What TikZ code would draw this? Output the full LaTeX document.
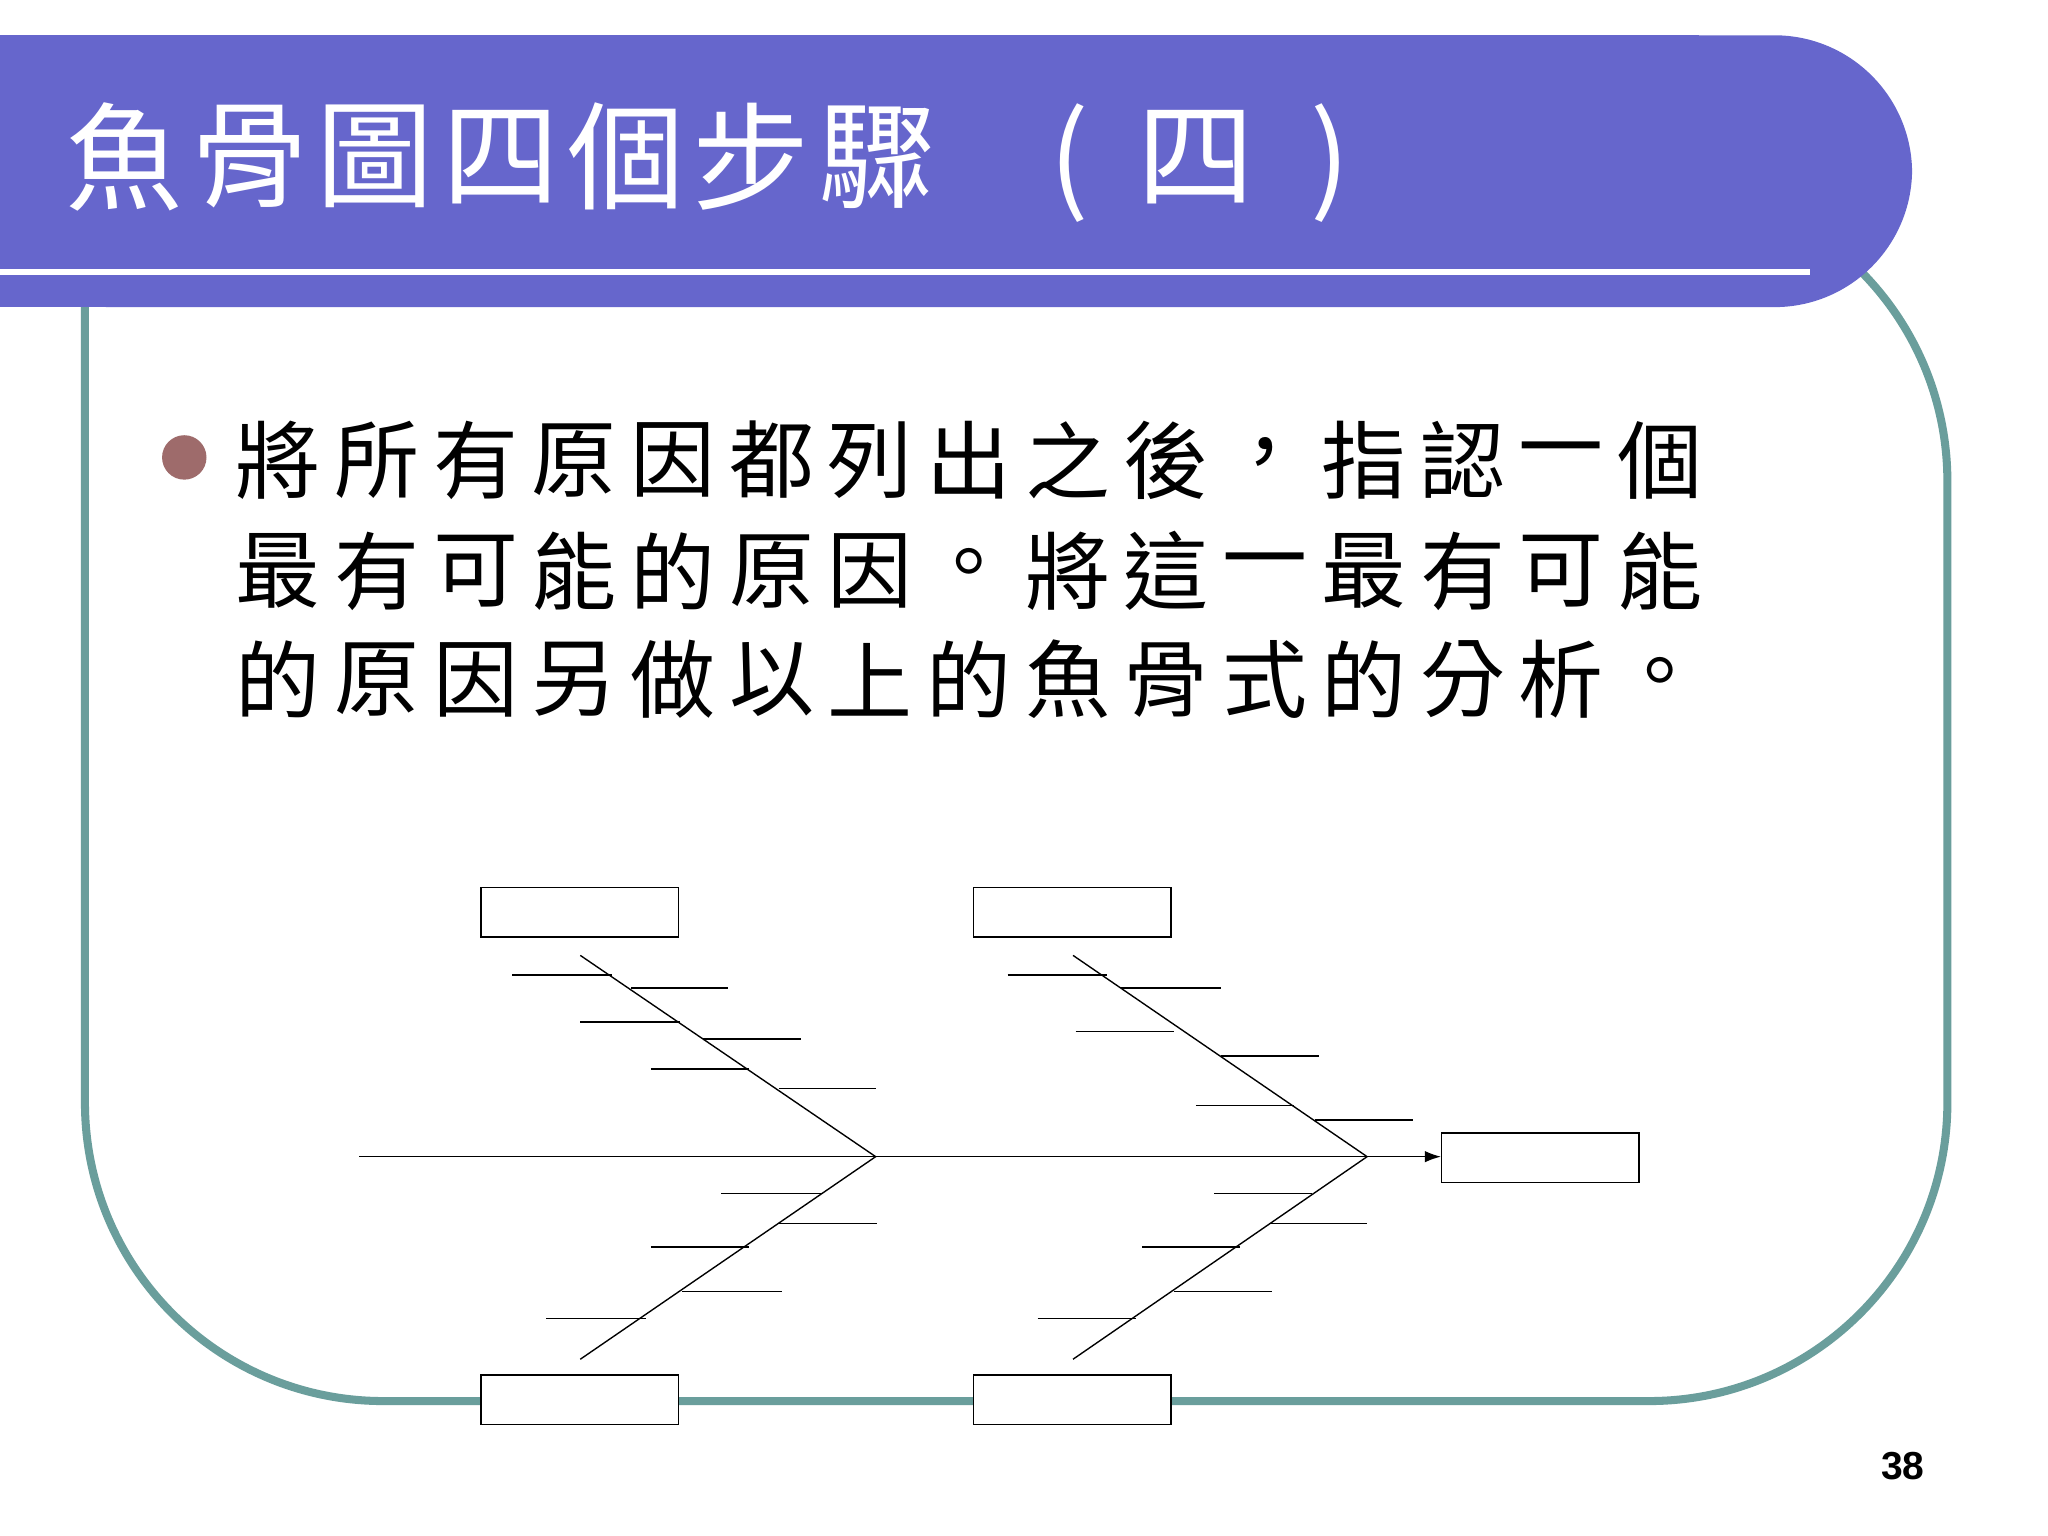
\documentclass[tikz,border=0pt]{standalone}
\usepackage{fontspec}
\setmainfont{Liberation Sans}
\newfontfamily\cjk{Noto Sans CJK TC}
\usetikzlibrary{arrows.meta}
\definecolor{banner}{HTML}{6666CC}
\definecolor{frame}{HTML}{6A9E9C}
\definecolor{dot}{HTML}{9E6B6B}
\tikzset{box/.style={draw,line width=0.6pt,fill=white},rib/.style={line width=0.6pt}}
\begin{document}
\begin{tikzpicture}[x=0.02cm,y=-0.02cm]
\fill[white] (0,0) rectangle (1567,1175);
\useasboundingbox (0,0) rectangle (1567,1175);
% frame
\draw[frame,line width=3.5pt,rounded corners=130pt] (65,140) -- (65,1072) -- (1490,1072) -- (1490,140) -- (1300,140);
% banner
\fill[banner,rounded corners=60pt] (-20,27) -- (1463,27) -- (1463,235) -- (-20,235) -- cycle;
\fill[banner] (-5,27) rectangle (1300,235);
\draw[white,line width=2.8pt] (0,208) -- (1385,208);
\foreach \c [count=\i] in {魚,骨,圖,四,個,步,驟}
  \node[white,font=\cjk\fontsize{51}{51}\selectfont] (t\i) at (95+96*\i-96,120) {\c};
\node[white,font=\cjk\fontsize{51}{51}\selectfont] (tp1) at (818,125) {(};
\node[white,font=\cjk\fontsize{51}{51}\selectfont] (tp2) at (915,120) {四};
\node[white,font=\cjk\fontsize{51}{51}\selectfont] (tp3) at (1018,125) {)};
% bullet
\fill[dot] (141,350) circle (17);
\foreach \c [count=\i] in {將,所,有,原,因,都,列,出,之,後,，,指,認,一,個}
  \node[font=\cjk\fontsize{37}{37}\selectfont] (a\i) at (213+75.5*\i-75.5,352) {\c};
\foreach \c [count=\i] in {最,有,可,能,的,原,因,。,將,這,一,最,有,可,能}
  \node[font=\cjk\fontsize{37}{37}\selectfont] (b\i) at (213+75.5*\i-75.5,437) {\c};
\foreach \c [count=\i] in {的,原,因,另,做,以,上,的,魚,骨,式,的,分,析,。}
  \node[font=\cjk\fontsize{37}{37}\selectfont] (c\i) at (213+75.5*\i-75.5,520) {\c};
% fishbone
\coordinate (tail) at (275,885);
\coordinate (j1) at (670,885);
\coordinate (j2) at (1046,885);
\node[box,minimum width=3.02cm,minimum height=0.76cm] (head) at (1178.5,886) {};
\node[box,minimum width=3.02cm,minimum height=0.76cm] (bt1) at (443.5,698) {};
\node[box,minimum width=3.02cm,minimum height=0.76cm] (bt2) at (820.5,698) {};
\node[box,minimum width=3.02cm,minimum height=0.76cm] (bb1) at (443.5,1071) {};
\node[box,minimum width=3.02cm,minimum height=0.76cm] (bb2) at (820.5,1071) {};
\coordinate (d1) at (444,731); \coordinate (d2) at (444,1040);
\coordinate (d3) at (821,731); \coordinate (d4) at (821,1040);
\draw[rib] (tail) -- (j1) -- (j2);
\draw[rib,-{Latex[length=7pt,width=5pt]}] (j2) -- (head.west |- j2);
\draw[rib] (d1) -- (j1) -- (d2);
\draw[rib] (d3) -- (j2) -- (d4);
\foreach \a/\b/\y in {392/468/746,483/557/756,444/520/782,538/613/795,498/573/818,596/670/833,
  552/628/913,596/671/936,498/573/954,522/598/988,418/494/1009,
  771/847/746,858/934/756,823/898/789,934/1009/808,915/990/846,1006/1081/857,
  929/1004/913,971/1046/936,874/949/954,898/973/988,794/869/1009}
  \draw[rib] (\a,\y) -- (\b,\y);
\node[font=\bfseries\fontsize{17}{17}\selectfont] (pg) at (1456,1122) {38};
\end{tikzpicture}
\end{document}
